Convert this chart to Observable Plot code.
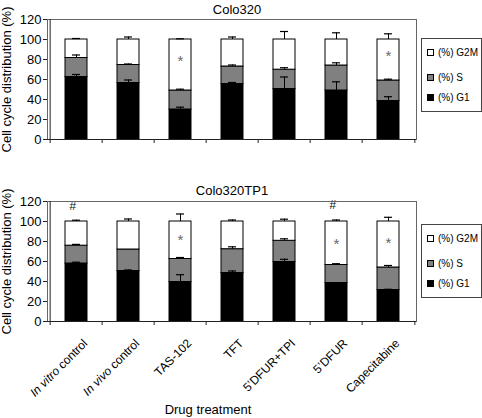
<!DOCTYPE html>
<html><head><meta charset="utf-8">
<script src="https://cdn.jsdelivr.net/npm/d3@7"></script>
<script src="https://cdn.jsdelivr.net/npm/@observablehq/plot@0.6"></script>
<style>
body{margin:0;background:#fff;}
#wrap{position:relative;width:482px;height:418px;font-family:"Liberation Sans",Arial,sans-serif;color:#000;overflow:hidden;background:#fff}
.abs{position:absolute}
.title{font-size:13px;transform:translateX(-50%);white-space:nowrap;line-height:15px}
.legend{border:1px solid #444;background:#fff;font-size:10px;box-sizing:border-box}
.item{position:absolute;left:5px;white-space:nowrap;line-height:12px;height:12px}
.sw{display:inline-block;width:7px;height:7px;border:1px solid #000;box-sizing:border-box;vertical-align:middle;margin-right:4px;position:relative;top:-1px}
.xlabel{font-size:13px;transform:translateX(-50%);white-space:nowrap}
</style></head>
<body><div id="wrap"></div>
<script>
// ---- data ----
const categories = ["In vitro control","In vivo control","TAS-102","TFT","5\u2019DFUR+TPI","5\u2019DFUR","Capecitabine"];
const phases = ["(%) G1","(%) S","(%) G2M"];
const phaseColors = ["#000000","#808080","#ffffff"];
const yTicks = [0,20,40,60,80,100,120];

// Colo320
const colo320_G1 = [62.5, 56.5, 30, 55.5, 50.5, 49, 38.5];
const colo320_S = [19, 18, 19, 17.5, 19.3, 25, 20.5];
const colo320_G2M = [18.5, 25.5, 51, 27, 30.2, 26, 41];
const colo320_errG1 = [2.5, 3, 2.3, 1.5, 12, 8.7, 4.3];
const colo320_errS = [3, 1, 1.3, 1.5, 2, 2.7, 1.3];
const colo320_errG2M = [1, 2.5, 0.7, 2.5, 8, 6.7, 5.7];
const colo320_starCats = ["TAS-102","Capecitabine"];
const colo320_starY = [78, 83];
const colo320_hashCats = [];
const colo320_hashY = [];

// Colo320TP1
const tp1_G1 = [58, 50.5, 39.5, 48.5, 59.5, 38.5, 31.5];
const tp1_S = [17.8, 21.5, 23, 23.8, 21.2, 18, 22.5];
const tp1_G2M = [24.2, 28, 37.5, 27.7, 19.3, 43.5, 46];
const tp1_errG1 = [1.3, 1, 7.3, 2, 2.7, 0, 0.7];
const tp1_errS = [1.3, 0, 1.5, 2.4, 2, 1.3, 2];
const tp1_errG2M = [1.3, 2.5, 7.5, 1.5, 2.3, 1.5, 4.2];
const tp1_starCats = ["TAS-102","5\u2019DFUR","Capecitabine"];
const tp1_starY = [81, 77, 78];
const tp1_hashCats = ["In vitro control","5\u2019DFUR"];
const tp1_hashY = [115, 116];

// ---- layout ----
const W = 482, ML = 47, MR = 66;
const step = (W - ML - MR) / categories.length;
const wrap = document.getElementById("wrap");

function panel(G1, S, G2M, eG1, eS, eG2M, starCats, starY, hashCats, hashY, opts) {
  const rows = [], errs = [];
  categories.forEach((c, i) => {
    const vals = [G1[i], S[i], G2M[i]];
    const errv = [eG1[i], eS[i], eG2M[i]];
    let cum = 0;
    vals.forEach((v, k) => {
      rows.push({cat: c, phase: phases[k], value: v});
      cum += v;
      if (errv[k] > 0) errs.push({cat: c, base: cum, top: cum + errv[k]});
    });
  });
  const stars = starCats.map((c, i) => ({cat: c, y: starY[i]}));
  const hashes = hashCats.map((c, i) => ({cat: c, y: hashY[i]}));
  const marks = [
    Plot.barY(rows, {x: "cat", y: "value", fill: "phase", stroke: "#000", strokeWidth: 1}),
    Plot.ruleX(errs, {x: "cat", y1: "base", y2: "top", stroke: "#000", strokeWidth: 1}),
    Plot.tickY(errs, {x: "cat", y: "top", stroke: "#000", strokeWidth: 1.2, insetLeft: 7, insetRight: 7}),
    Plot.text(stars, {x: "cat", y: "y", text: () => "*", fill: "#666", fontSize: 15}),
    Plot.text(hashes, {x: "cat", y: "y", text: () => "#", fill: "#111", fontSize: 12, fontStyle: "italic", dx: -4}),
    Plot.frame({stroke: "#666", strokeWidth: 1}),
    Plot.ruleX([0], {x: () => categories[0], y1: 0, y2: 120, dx: -step/2, stroke: "#222"}),
    Plot.ruleY([0], {stroke: "#222"}),
    Plot.ruleX(categories, {x: d => d, y1: 0, y2: -4, dx: -step/2, stroke: "#222"}),
    Plot.ruleX([categories[categories.length-1]], {x: d => d, y1: 0, y2: -4, dx: step/2, stroke: "#222"}),
    Plot.axisY({ticks: yTicks, tickSize: 4, tickPadding: 2, fontSize: 13, stroke: "#222",
      label: "Cell cycle distribution (%)", labelAnchor: "center", labelOffset: 46, labelArrow: "none"})
  ];
  if (opts.labels) {
    marks.push(Plot.axisX({tickSize: 0, tickRotate: -45, fontSize: 12, label: null, dx: 9, dy: 8}));
  }
  const svg = Plot.plot({
    width: W, height: opts.height,
    marginLeft: ML, marginRight: MR, marginTop: opts.mt, marginBottom: opts.mb,
    style: {fontFamily: '"Liberation Sans", Arial, sans-serif', fontSize: "13px", background: "transparent", color: "#000"},
    x: {domain: categories, paddingInner: 0.58, paddingOuter: 0.29, axis: null},
    y: {domain: [0, 120], axis: null},
    color: {domain: phases, range: phaseColors},
    marks
  });
  // italic "In vitro"/"In vivo"
  svg.querySelectorAll("text").forEach(t => {
    const s = t.textContent;
    const m = s.match(/^(In vitro|In vivo)( control)$/);
    if (m) {
      t.textContent = "";
      const ns = "http://www.w3.org/2000/svg";
      const a = document.createElementNS(ns, "tspan"); a.setAttribute("font-style", "italic"); a.textContent = m[1];
      const b = document.createElementNS(ns, "tspan"); b.textContent = m[2];
      t.appendChild(a); t.appendChild(b);
    }
  });
  svg.classList.add("abs");
  svg.style.left = "0px"; svg.style.top = opts.top + "px";
  wrap.appendChild(svg);

  const title = document.createElement("div");
  title.className = "abs title"; title.textContent = opts.title;
  title.style.left = opts.titleX + "px"; title.style.top = opts.titleY + "px";
  wrap.appendChild(title);

  const lg = document.createElement("div");
  lg.className = "abs legend";
  lg.style.left = "421px"; lg.style.top = opts.legTop + "px"; lg.style.width = "61px"; lg.style.height = "74px";
  const order = [2, 1, 0], ys = [8, 33, 53];
  order.forEach((k, j) => {
    const it = document.createElement("div"); it.className = "item"; it.style.top = ys[j] + "px";
    const sw = document.createElement("span"); sw.className = "sw"; sw.style.background = phaseColors[k];
    it.appendChild(sw); it.appendChild(document.createTextNode(phases[k]));
    lg.appendChild(it);
  });
  wrap.appendChild(lg);
}

panel(colo320_G1, colo320_S, colo320_G2M, colo320_errG1, colo320_errS, colo320_errG2M,
  colo320_starCats, colo320_starY, colo320_hashCats, colo320_hashY,
  {top: 0, height: 162, mt: 19, mb: 23, labels: false, title: "Colo320", titleX: 237, titleY: 2, legTop: 38});
panel(tp1_G1, tp1_S, tp1_G2M, tp1_errG1, tp1_errS, tp1_errG2M,
  tp1_starCats, tp1_starY, tp1_hashCats, tp1_hashY,
  {top: 180, height: 238, mt: 21, mb: 97, labels: true, title: "Colo320TP1", titleX: 232, titleY: 183, legTop: 224});

const xl = document.createElement("div");
xl.className = "abs xlabel"; xl.textContent = "Drug treatment";
xl.style.left = "208px"; xl.style.top = "402px";
wrap.appendChild(xl);
</script>
</body></html>
